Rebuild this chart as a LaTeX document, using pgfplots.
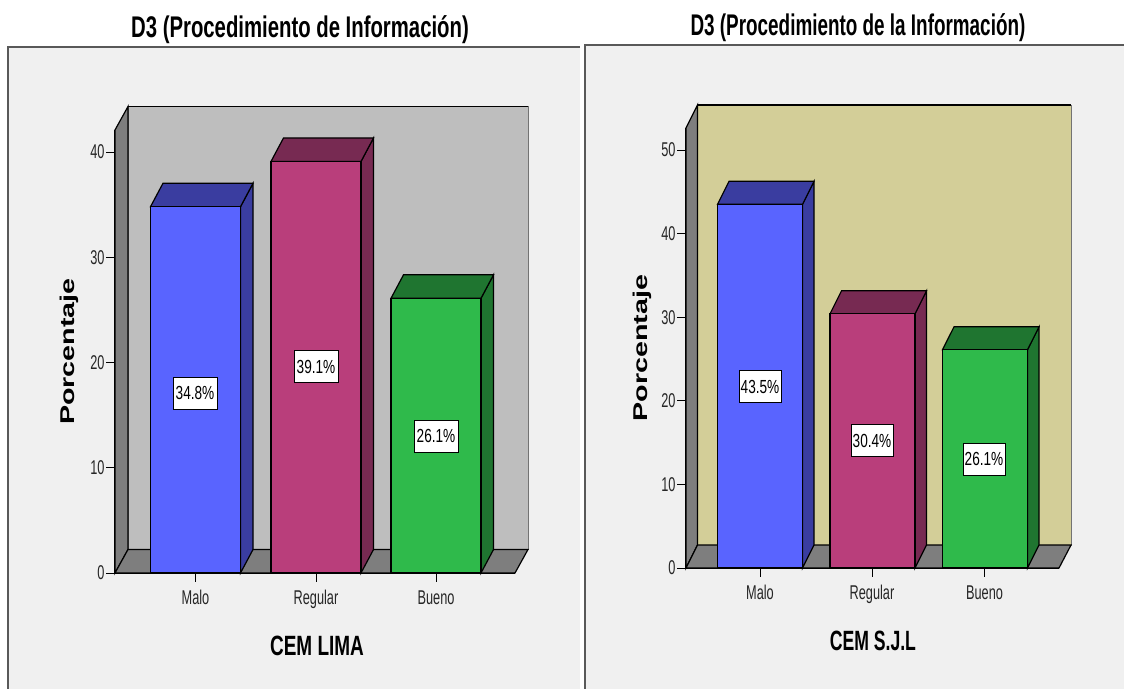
\documentclass[border=0pt]{standalone}
\usepackage{fontspec}
\usepackage{pgfplots}
\pgfplotsset{compat=1.18}
\setmainfont{Liberation Sans}
\newfontfamily\condfont[FakeStretch=0.64]{Liberation Sans}
\newfontfamily\boxfont[FakeStretch=0.72]{Liberation Sans}
\newfontfamily\titlefont[FakeStretch=0.68]{Liberation Sans}
\newfontfamily\titlefontb[FakeStretch=0.632]{Liberation Sans}
\newfontfamily\widefont[FakeStretch=1.44]{Liberation Sans}
\definecolor{panel}{HTML}{F0F0F0}
\definecolor{wallgrey}{HTML}{BEBEBE}
\definecolor{wallbeige}{HTML}{D3CE98}
\definecolor{sidegrey}{HTML}{7E7E7E}
\definecolor{azul}{HTML}{5964FF}
\definecolor{azuldark}{HTML}{3A3DA0}
\definecolor{rosa}{HTML}{B93E7B}
\definecolor{rosadark}{HTML}{772A52}
\definecolor{verde}{HTML}{2FBA4B}
\definecolor{verdedark}{HTML}{1F7530}

% Box: back wall, left wall and floor.  {x0}{x0b}{x1}{x1b}{top}{topb}{depth}{wall colour}
\newcommand{\chartbox}[8]{
  \addplot[fill=#8,draw=black!55,line width=0.9pt,forget plot] coordinates {(#2,#7) (#4,#7) (#4,#6) (#2,#6)} --cycle;
  \addplot[black,line width=1.4pt,forget plot] coordinates {(#2,#6) (#4,#6)};
  \addplot[fill=sidegrey,draw=black,line width=1.2pt,forget plot] coordinates {(#1,0) (#2,#7) (#2,#6) (#1,#5)} --cycle;
  \addplot[fill=sidegrey,draw=black,line width=1.2pt,forget plot] coordinates {(#1,0) (#2,#7) (#4,#7) (#3,0)} --cycle;
}
% One bar: {centre}{x0}{x0b}{x1}{x1b}{value}{value+depth}{colour}{dark colour}
\newcommand{\threedbar}[9]{
  \addplot[fill=#9,draw=black,line width=1.2pt,forget plot] coordinates {(#4,0) (#5,{#7-#6}) (#5,#7) (#4,#6)} --cycle;
  \addplot[fill=#9,draw=black,line width=1.2pt,forget plot] coordinates {(#2,#6) (#3,#7) (#5,#7) (#4,#6)} --cycle;
  \addplot[ybar,fill=#8,draw=black,line width=1.2pt,forget plot] coordinates {(#1,#6)};
}

\pgfplotsset{
  spss/.style={
    scale only axis, clip=false, ymin=0,
    axis x line*=bottom, axis y line*=left,
    axis line style={black,line width=1.2pt,-},
    tick align=outside, major tick length=9bp,
    tick style={black,line width=0.9pt},
    ytick={0,10,20,30,40,50},
    xticklabels={Malo,Regular,Bueno},
    /pgf/number format/assume math mode=true,
    tick label style={font=\condfont\fontsize{20}{22}\selectfont,text=black!85},
    xticklabel style={yshift=-5bp},
    yticklabel style={xshift=2bp},
    xlabel style={anchor=center,font=\titlefont\bfseries\fontsize{28}{30}\selectfont},
    ylabel style={anchor=center,font=\widefont\bfseries\fontsize{20}{22}\selectfont},
    title style={anchor=center,font=\titlefont\bfseries\fontsize{30}{32}\selectfont},
  },
}
\tikzset{
  pct/.style={draw=black,fill=white,line width=1pt,inner sep=0pt,
    minimum height=32bp,font=\boxfont\fontsize{19}{21}\selectfont},
}

\begin{document}
\begin{tikzpicture}[x=1bp,y=1bp]
\path[use as bounding box] (0,0) rectangle (1124,689);
% panel backgrounds
\fill[panel] (8,0) rectangle (580,642);
\draw[black!65,line width=1.1pt] (8,0) -- (8,642) -- (580,642);
\fill[panel] (585,0) rectangle (1124,644);
\draw[black!65,line width=1.1pt] (585,0) -- (585,644) -- (1124,644);

\begin{axis}[spss, at={(115bp,116bp)}, anchor=origin,
  width=400bp, height=443bp,
  xmin=115, xmax=515, ymax=42.09, bar width=90,
  xtick={195.5,316,436},
  title={D3 (Procedimiento de Información)},
  title style={at={(0.4625,1.212)}},
  xlabel={CEM LIMA}, xlabel style={at={(0.505,-0.165)}},
  ylabel={Porcentaje}, ylabel style={at={(-0.115,0.5)}},
]
\chartbox{115}{128}{515}{528}{42.09}{44.32}{2.233}{wallgrey}
\threedbar{195.5}{150.5}{163}{240.5}{253}{34.8}{37.03}{azul}{azuldark}
\threedbar{316}{271}{283.5}{361}{373.5}{39.1}{41.33}{rosa}{rosadark}
\threedbar{436}{391}{403.5}{481}{493.5}{26.1}{28.33}{verde}{verdedark}
\node[pct,minimum width=44bp] at (axis cs:195,17.1) {34.8\%};
\node[pct,minimum width=44bp] at (axis cs:316,19.6) {39.1\%};
\node[pct,minimum width=44bp] at (axis cs:436,13.0) {26.1\%};
\end{axis}

\begin{axis}[spss, at={(686bp,121bp)}, anchor=origin,
  width=373bp, height=440bp,
  xmin=686, xmax=1059, ymax=52.63, bar width=85,
  xtick={760,872,984.5},
  title={D3 (Procedimiento de la Información)},
  title style={at={(0.461,1.214)},font=\titlefontb\bfseries\fontsize{30}{32}\selectfont},
  xlabel={CEM S.J.L}, xlabel style={at={(0.501,-0.166)},font=\titlefontb\bfseries\fontsize{28}{30}\selectfont},
  ylabel={Porcentaje}, ylabel style={at={(-0.118,0.5)}},
]
\chartbox{686}{697.5}{1059}{1071}{52.63}{55.38}{2.75}{wallbeige}
\threedbar{760}{717.5}{729}{802.5}{814}{43.5}{46.25}{azul}{azuldark}
\threedbar{872.5}{830}{841.5}{915}{926.5}{30.4}{33.15}{rosa}{rosadark}
\threedbar{985}{942.5}{954}{1027.5}{1039}{26.1}{28.85}{verde}{verdedark}
\node[pct,minimum width=42bp] at (axis cs:760,21.7) {43.5\%};
\node[pct,minimum width=42bp] at (axis cs:872,15.2) {30.4\%};
\node[pct,minimum width=42bp] at (axis cs:984,13.0) {26.1\%};
\end{axis}
\end{tikzpicture}
\end{document}
